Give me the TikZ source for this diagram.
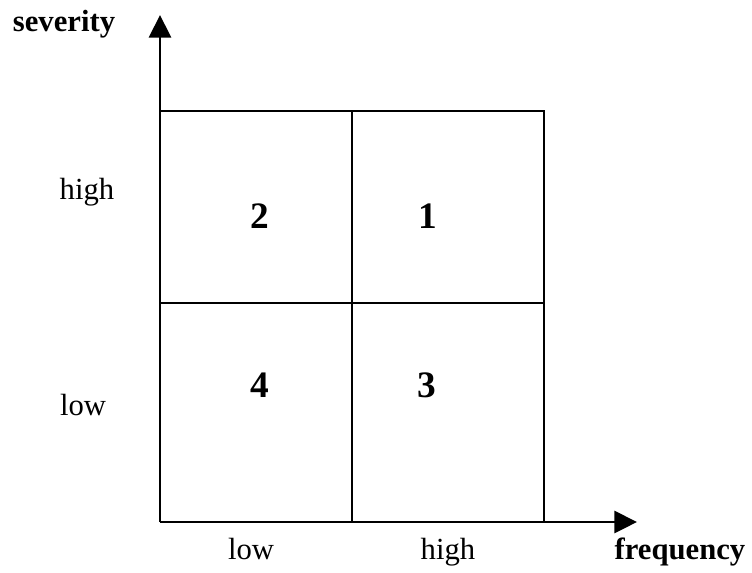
\documentclass[tikz,border=0pt]{standalone}
\usepackage{fontspec}
\setmainfont{Liberation Serif}
\usetikzlibrary{arrows.meta}
\begin{document}
\begin{tikzpicture}[x=0.75pt,y=-0.75pt,
  lbl/.style={inner sep=0pt,anchor=base,font=\fontsize{23}{28}\selectfont},
  blbl/.style={lbl,font=\fontsize{23}{28}\selectfont\bfseries},
  num/.style={lbl,font=\fontsize{28}{34}\selectfont\bfseries},
  axis/.style={line width=2.2pt,-{Triangle[width=16.5pt,length=17pt]}},
  grid/.style={line width=1.4pt}]
\useasboundingbox (0,0) rectangle (752,572);
\coordinate (o) at (160,522);
\coordinate (ytip) at (160,15);
\coordinate (xtip) at (637,522);
\coordinate (tl) at (160,111);
\coordinate (tr) at (544,111);
\coordinate (br) at (544,522);
\coordinate (tm) at (352,111);
\coordinate (bm) at (352,522);
\coordinate (ml) at (160,303);
\coordinate (mr) at (544,303);
\draw[grid] (tl) -- (tr) -- (br);
\draw[grid] (tm) -- (bm);
\draw[grid] (ml) -- (mr);
\draw[axis] (o) -- (ytip);
\draw[axis] (o) -- (xtip);
\node[blbl] (sev) at (64,31) {severity};
\node[lbl] (yh) at (87,199) {high};
\node[lbl] (yl) at (83,415) {low};
\node[lbl] (xl) at (251,559) {low};
\node[lbl] (xh) at (448,559) {high};
\node[blbl] (freq) at (680,559) {frequency};
\node[num] (n2) at (260,228) {2};
\node[num] (n1) at (428,228) {1};
\node[num] (n4) at (260,397) {4};
\node[num] (n3) at (427,397) {3};
\end{tikzpicture}
\end{document}
